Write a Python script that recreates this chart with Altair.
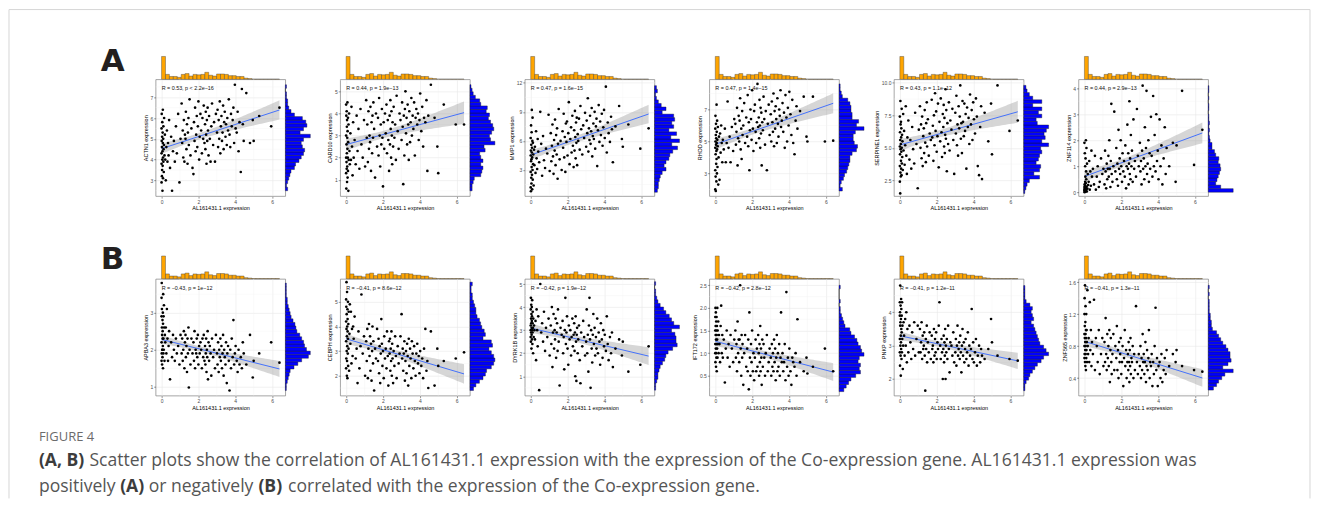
import altair as alt
import numpy as np
import pandas as pd

# ---------------- data ----------------
# AL161431.1 expression (shared x variable of every panel)
X = [0, 0, 0, 0, 0.01, 0.01, 0.02, 0.02, 0.03, 0.03, 0.04, 0.04, 0.05, 0.05, 0.06,
     0.06, 0.07, 0.07, 0.08, 0.08, 0.09, 0.1, 0.1, 0.11, 0.12, 0.13, 0.14, 0.16, 0.18, 0.2,
     0.23, 0.26, 0.29, 0.32, 0.35, 0.38, 0.41,
     0.46, 0.52, 0.57, 0.62,
     0.67, 0.72, 0.78, 0.83,
     0.9, 0.97, 1.03,
     1.09, 1.12, 1.15, 1.18, 1.21, 1.24, 1.27,
     1.3, 1.32, 1.35, 1.38, 1.41, 1.43, 1.46, 1.48,
     1.52, 1.57, 1.62, 1.68,
     1.73, 1.76, 1.79, 1.82, 1.85, 1.88, 1.91,
     1.94, 1.97, 2.0, 2.04, 2.07, 2.11,
     2.15, 2.19, 2.22, 2.26, 2.29, 2.33,
     2.36, 2.38, 2.4, 2.42, 2.44, 2.46, 2.48, 2.5, 2.52, 2.55,
     2.58, 2.62, 2.66, 2.7, 2.74,
     2.8, 2.85, 2.9, 2.95,
     3.01, 3.04, 3.07, 3.1, 3.13, 3.16, 3.19,
     3.22, 3.25, 3.28, 3.31, 3.34, 3.37, 3.4,
     3.43, 3.47, 3.5, 3.54, 3.57, 3.61,
     3.65, 3.69, 3.73, 3.77, 3.81,
     3.86, 3.9, 3.94, 3.98, 4.02,
     4.08, 4.13, 4.18, 4.23,
     4.3, 4.36, 4.41, 4.46,
     4.6, 4.8,
     4.95, 5.0, 5.3, 5.95, 6.4]

Y_ACTN1 = [4.3, 2.9, 5.5, 3.8, 4.9, 6.2, 3.2, 4.6, 5.1, 3.5, 4.0, 5.8, 2.5, 4.4, 5.3,
           3.7, 4.8, 6.4, 3.1, 4.1, 5.0, 3.9, 5.6, 4.5, 3.4, 4.7, 6.0, 4.2, 5.2, 4.0,
           3.0, 4.6, 5.4, 3.9, 4.8, 4.2, 5.9, 3.6, 5.1, 2.5, 4.4, 4.9, 3.9, 5.6, 4.3,
           6.2, 2.9, 5.0, 6.7, 4.8, 5.4, 4.1, 5.9, 3.9, 5.2, 5.0, 6.3, 4.5, 5.7, 3.8,
           5.3, 6.0, 4.7, 6.9, 4.2, 5.5, 3.6, 3.3, 5.8, 4.9, 6.5, 4.4, 5.2, 6.1,
           4.6, 5.6, 6.8, 4.0, 5.1, 6.2, 5.4, 4.3, 6.0, 5.0, 6.6, 4.8,
           5.7, 4.5, 6.3, 5.2, 3.8, 5.9, 4.9, 6.5, 5.4, 4.2, 6.1, 5.0, 3.9, 5.6, 6.7,
           4.7, 5.8, 3.9, 6.2, 5.3, 6.4, 4.6, 5.9, 5.0, 6.8, 4.3, 5.6, 6.1, 4.9, 5.3,
           6.6, 4.5, 5.8, 6.3, 5.1, 5.7, 4.7, 6.0, 5.4, 6.9, 5.2, 4.6, 6.2, 5.6,
           5.9, 6.5, 4.8, 7.6, 5.5, 5.3, 6.3, 4.4, 5.8, 3.4, 7.4, 5.7, 4.9, 7.2, 4.8,
           5.9, 4.9, 6.1, 5.6, 6.5]
Y_CARD10 = [2.0, 4.4, 1.3, 3.0, 0.6, 3.9, 1.8, 2.6, 4.1, 1.5, 3.4, 2.2, 0.9, 3.7, 2.9,
            1.6, 4.5, 2.4, 1.1, 3.2, 2.0, 3.8, 1.4, 2.7, 0.5, 3.5, 1.9, 4.0, 2.3, 1.7,
            3.1, 1.9, 4.3, 2.5, 1.2, 3.6, 2.0, 2.8, 1.7, 3.9, 2.3, 3.3, 1.5, 4.2, 2.6,
            2.0, 3.7, 1.6, 4.6, 2.9, 3.5, 1.8, 4.1, 2.4, 3.0, 2.7, 4.3, 1.4, 3.6, 2.2,
            3.9, 2.9, 4.5, 3.3, 1.1, 4.0, 2.5, 3.8, 2.1, 4.7, 3.0, 1.6, 3.5, 2.6,
            4.2, 2.9, 0.7, 3.6, 2.4, 4.0, 3.1, 4.4, 2.2, 3.7, 2.8, 1.4,
            3.9, 2.6, 4.6, 3.3, 2.0, 4.1, 3.0, 1.7, 3.6, 2.5, 4.3, 2.9, 3.5, 1.9, 4.8,
            3.2, 2.4, 4.0, 3.7, 2.8, 4.5, 3.4, 0.8, 3.9, 2.1, 4.2, 5.0, 3.1, 3.8, 2.6,
            4.4, 3.5, 1.9, 4.1, 2.7, 3.6, 4.7, 3.0, 3.9, 3.3, 4.5, 2.1, 3.8, 4.2,
            3.5, 4.0, 2.8, 3.7, 4.9, 3.2, 4.3, 2.5, 3.8, 3.6, 4.6, 1.4, 3.9, 5.3, 3.8,
            2.5, 1.3, 4.4, 3.5, 3.5]
Y_MMP1 = [4.5, 1.2, 6.3, 2.8, 5.0, 0.8, 3.9, 7.6, 2.2, 5.6, 4.1, 1.6, 6.9, 3.3, 4.8,
          9.2, 2.5, 5.3, 1.0, 4.3, 6.0, 3.0, 8.4, 2.0, 5.8, 3.6, 4.6, 1.4, 5.1, 3.5,
          5.4, 2.7, 7.0, 4.2, 3.1, 6.2, 4.9, 3.8, 9.0, 5.7, 2.4, 6.5, 4.0, 3.2, 5.2,
          4.7, 8.7, 2.9, 6.8, 3.9, 5.5, 7.7, 4.4, 2.6, 6.1, 5.0, 8.2, 3.5, 6.6, 4.6,
          7.3, 2.1, 5.7, 9.3, 4.1, 6.0, 3.0, 7.0, 5.3, 8.8, 4.3, 6.4, 2.8, 7.8,
          5.9, 8.0, 4.5, 6.8, 10.0, 3.6, 6.2, 7.4, 4.8, 8.6, 5.5, 3.3,
          7.1, 5.0, 9.1, 6.4, 4.2, 7.9, 5.8, 8.4, 3.5, 6.7, 6.0, 8.3, 5.1, 9.6, 7.2,
          4.6, 7.6, 6.3, 8.9, 5.4, 8.1, 6.8, 10.4, 4.9, 7.3, 6.1, 8.6, 5.7, 7.0, 9.4,
          4.4, 6.5, 7.8, 6.2, 9.0, 5.2, 7.5, 8.3, 3.4, 7.1, 9.7, 5.9, 8.0, 6.6,
          8.8, 5.5, 7.4, 9.2, 6.3, 11.6, 4.8, 7.9, 6.8, 5.9, 8.5, 7.2, 3.8, 7.5, 9.6,
          6.2, 5.4, 7.7, 5.2, 7.3]
Y_RHOD = [4.6, 2.0, 5.8, 3.2, 5.0, 6.6, 2.8, 4.2, 5.4, 1.9, 4.8, 6.1, 3.6, 5.2, 2.5,
          4.4, 7.3, 3.9, 5.6, 4.9, 3.0, 6.3, 4.5, 5.1, 3.4, 4.7, 5.9, 2.3, 4.0, 5.3,
          2.6, 5.5, 4.3, 6.0, 4.9, 3.7, 5.1, 4.5, 5.8, 3.7, 4.9, 7.5, 4.6, 5.3, 3.7,
          5.9, 4.4, 6.4, 6.1, 4.8, 5.6, 7.1, 3.5, 5.2, 6.6, 5.0, 6.3, 7.7, 4.5, 5.8,
          3.9, 6.9, 5.4, 6.0, 7.4, 4.9, 6.5, 5.3, 7.9, 4.7, 6.2, 3.2, 5.7, 7.0,
          6.4, 5.1, 8.2, 5.8, 4.4, 6.9, 7.3, 5.6, 4.9, 6.2, 8.6, 5.9,
          6.5, 5.2, 7.6, 6.0, 4.6, 7.1, 5.5, 6.8, 3.5, 6.2, 5.7, 7.8, 6.4, 4.8, 6.9,
          3.2, 6.1, 7.3, 5.4, 6.7, 5.0, 7.5, 6.2, 5.6, 8.0, 4.7, 6.9, 5.8, 7.2, 6.4,
          4.9, 7.7, 6.1, 5.3, 7.0, 6.6, 8.2, 5.9, 6.3, 7.4, 5.6, 6.8, 4.6, 7.9,
          6.5, 5.0, 7.1, 6.0, 8.1, 6.7, 5.4, 7.6, 4.9, 4.2, 6.3, 7.2, 5.8, 6.9, 7.8,
          5.3, 5.0, 7.8, 5.0, 5.05]
Y_SERPINE1 = [5.1, 2.4, 7.4, 3.6, 6.2, 4.5, 1.5, 5.6, 8.6, 3.1, 4.9, 6.8, 2.8, 5.3, 4.0,
              7.0, 3.4, 5.8, 4.7, 6.5, 2.9, 5.0, 8.0, 3.8, 6.0, 4.3, 5.5, 3.3, 7.6, 4.8,
              6.3, 3.7, 5.2, 8.2, 4.4, 3.0, 5.8, 7.1, 4.1, 5.6, 3.4, 6.6, 4.9, 3.8, 7.7,
              5.3, 1.9, 6.4, 8.2, 5.0, 6.8, 4.2, 7.4, 3.6, 5.9, 6.5, 4.6, 7.9, 5.4, 3.9,
              6.9, 8.5, 5.1, 7.2, 4.4, 6.1, 5.6, 8.7, 5.8, 6.7, 4.0, 7.5, 5.2, 9.2,
              6.3, 7.8, 4.7, 5.9, 8.4, 3.5, 7.0, 5.5, 8.8, 6.2, 4.3, 7.6,
              6.6, 8.3, 5.1, 7.3, 4.6, 6.0, 9.5, 5.7, 7.9, 3.2, 6.9, 5.3, 8.5, 4.8, 7.1,
              6.4, 8.0, 5.6, 3.0, 7.7, 6.1, 9.0, 5.2, 6.8, 4.4, 8.2, 6.5, 7.4, 9.8, 5.7,
              6.9, 4.6, 8.6, 7.0, 5.9, 8.4, 6.3, 7.6, 3.4, 8.1, 6.6, 7.3, 5.3, 9.1,
              6.8, 7.9, 5.6, 8.5, 7.2, 6.1, 8.8, 7.4, 3.6, 2.9, 6.6, 8.2, 2.6, 7.7, 5.5,
              8.4, 4.5, 9.8, 6.3, 7.1]
Y_ZNF114 = [0.05, 0.1, 0.2, 1.9, 0.0, 0.3, 0.15, 1.5, 0.08, 0.25, 0.4, 1.0, 0.12, 0.6, 0.02,
            1.3, 0.18, 0.35, 2.0, 0.05, 0.8, 0.1, 0.5, 1.7, 0.22, 0.03, 1.1, 0.14, 0.7, 0.28,
            0.4, 1.2, 0.1, 0.8, 0.25, 1.6, 0.6, 0.9, 0.3, 1.4, 0.1, 0.6, 1.0, 0.2, 0.4,
            1.3, 0.7, 0.9, 0.3, 1.6, 0.8, 0.15, 1.1, 0.5, 0.9, 1.4, 0.6, 2.0, 0.9, 0.2,
            1.2, 3.4, 0.7, 0.4, 1.0, 3.1, 0.8, 1.7, 0.5, 1.1, 0.25, 2.4, 0.9, 1.3,
            0.7, 2.0, 1.0, 0.4, 1.5, 0.8, 1.2, 0.6, 1.8, 0.15, 1.0, 2.6,
            0.9, 1.5, 0.3, 1.1, 3.5, 0.7, 1.3, 0.5, 2.2, 1.0, 1.6, 0.4, 2.8, 0.9, 1.2,
            0.6, 3.2, 1.4, 1.0, 1.9, 0.8, 1.2, 0.3, 1.6, 4.1, 0.9, 1.3, 0.5, 2.5, 1.0,
            1.7, 3.9, 0.7, 1.1, 2.0, 0.4, 1.5, 0.9, 2.9, 1.4, 0.6, 3.7, 1.0, 2.2,
            0.8, 3.0, 1.2, 1.6, 0.5, 2.8, 1.0, 1.8, 0.3, 1.3, 2.5, 0.7, 1.7, 1.0, 1.9,
            0.4, 1.8, 3.9, 1.05, 2.4]
Y_APBA3 = [2.9, 1.7, 3.4, 2.2, 3.8, 1.9, 2.6, 3.1, 1.6, 2.4, 2.0, 2.0, 2.8, 1.8, 2.3,
           2.5, 2.1, 3.0, 1.5, 2.7, 3.5, 2.3, 1.9, 2.9, 2.0, 3.2, 2.6, 1.7, 2.4, 2.2,
           2.6, 1.9, 3.1, 2.3, 1.7, 2.1, 2.5, 1.2, 2.2, 1.8, 2.4, 2.0, 1.7, 2.3, 1.9,
           2.1, 1.6, 2.4, 1.9, 2.3, 1.7, 2.0, 2.5, 1.5, 2.2, 2.4, 1.8, 2.1, 1.4, 2.3,
           1.9, 2.6, 0.98, 2.0, 1.6, 2.3, 1.9, 2.2, 1.7, 2.5, 1.5, 2.0, 1.9, 2.3,
           1.8, 2.4, 1.6, 2.1, 1.9, 2.2, 2.0, 1.5, 2.3, 1.8, 2.4, 1.7,
           2.1, 1.6, 1.9, 2.3, 1.4, 2.0, 1.8, 2.5, 1.2, 2.2, 1.7, 2.1, 1.9, 1.3, 2.3,
           1.8, 2.0, 1.5, 2.4, 1.9, 1.6, 2.2, 1.4, 2.0, 1.8, 2.3, 1.7, 2.1, 1.5, 1.9,
           2.4, 1.3, 2.0, 1.8, 1.6, 2.2, 1.1, 1.9, 2.1, 1.7, 0.9, 2.0, 1.5, 2.3,
           1.8, 2.8, 1.6, 1.9, 2.1, 1.7, 1.4, 2.0, 1.6, 1.8, 1.5, 2.2, 1.9, 1.6, 2.4,
           1.25, 1.7, 1.9, 2.2, 1.65]
Y_CEBPH = [4.2, 2.3, 5.1, 3.4, 4.8, 2.7, 3.9, 5.8, 3.0, 4.5, 2.0, 3.6, 5.4, 2.6, 4.0,
           3.2, 4.7, 1.9, 3.8, 4.3, 2.9, 5.0, 3.5, 2.4, 4.1, 3.1, 4.6, 2.2, 3.7, 4.9,
           3.3, 4.6, 2.5, 3.9, 2.8, 4.0, 3.5, 4.4, 2.7, 3.1, 1.7, 3.8, 2.3, 3.2, 5.3,
           2.9, 3.6, 2.0, 3.4, 2.6, 3.9, 1.9, 3.1, 4.1, 2.8, 3.6, 2.2, 3.3, 1.8, 3.0,
           4.0, 2.5, 3.4, 1.4, 3.1, 2.7, 3.9, 2.6, 3.5, 2.1, 3.2, 1.7, 2.9, 4.3,
           3.3, 2.4, 3.0, 1.9, 3.6, 2.7, 3.1, 2.3, 3.8, 2.8, 1.6, 3.4,
           2.9, 3.5, 2.2, 3.1, 2.6, 3.8, 2.0, 3.3, 2.7, 1.7, 3.0, 2.4, 3.6, 2.8, 1.9,
           3.2, 2.5, 2.9, 3.6, 4.5, 2.7, 3.1, 2.2, 2.9, 3.4, 1.8, 2.6, 3.0, 2.1, 3.3,
           2.8, 1.6, 3.5, 2.4, 3.1, 2.7, 1.9, 3.4, 2.9, 2.3, 3.2, 2.6, 2.0, 2.9,
           3.3, 2.5, 2.8, 2.1, 3.0, 2.4, 2.7, 1.9, 3.1, 3.9, 2.2, 2.6, 1.5, 3.8, 1.6,
           3.1, 2.4, 2.6, 2.7, 2.95]
Y_DYRK1B = [3.2, 2.7, 3.9, 3.0, 4.4, 2.5, 3.5, 2.9, 4.1, 3.3, 2.2, 3.7, 3.1, 2.8, 4.0,
            3.4, 2.6, 3.6, 3.0, 4.3, 2.4, 3.3, 2.9, 3.8, 3.1, 2.0, 3.5, 2.7, 3.2, 3.0,
            2.6, 3.4, 1.7, 3.9, 3.0, 2.3, 3.6, 0.4, 5.0, 2.9, 3.3, 2.5, 3.8, 2.1, 3.1,
            2.7, 3.5, 1.9, 3.2, 2.4, 4.0, 1.4, 2.9, 3.7, 2.2, 3.0, 2.6, 3.5, 1.8, 2.9,
            3.3, 2.1, 3.9, 2.5, 0.6, 3.1, 2.8, 3.4, 2.0, 2.7, 1.3, 3.0, 4.4, 2.4,
            2.9, 3.6, 2.2, 1.5, 3.2, 2.6, 3.0, 1.9, 2.7, 3.5, 2.3, 2.8,
            3.3, 2.1, 2.9, 1.0, 3.6, 2.5, 0.8, 2.8, 3.1, 2.0, 2.6, 3.2, 1.7, 0.7, 2.9,
            2.3, 3.4, 2.7, 1.9, 2.5, 3.9, 2.0, 2.8, 1.2, 3.2, 4.4, 2.6, 0.5, 3.0, 2.2,
            1.6, 2.8, 3.7, 2.4, 3.1, 1.9, 2.7, 2.2, 3.5, 2.0, 2.9, 2.5, 1.5, 3.3,
            2.6, 1.8, 3.0, 2.3, 2.8, 2.1, 3.6, 2.4, 1.7, 2.7, 2.0, 2.9, 1.4, 2.2, 2.6,
            1.9, 2.5, 1.2, 1.5, 2.3]
Y_IFT172 = [1.5, 1.0, 1.8, 1.2, 2.0, 0.8, 1.4, 1.6, 1.1, 1.9, 0.7, 1.3, 1.7, 1.0, 1.5,
            0.9, 1.2, 1.8, 1.4, 0.6, 1.6, 1.1, 1.3, 2.0, 0.9, 1.5, 1.2, 1.7, 1.0, 1.4,
            1.2, 0.8, 1.6, 2.05, 1.0, 1.4, 0.9, 1.3, 0.35, 1.1, 1.5, 0.9, 1.2, 0.7, 1.4,
            1.1, 0.8, 1.3, 1.5, 0.9, 1.2, 0.6, 1.7, 1.0, 1.3, 0.8, 1.3, 2.5, 1.1, 0.5,
            1.4, 0.9, 1.2, 0.3, 1.0, 1.4, 0.7, 1.1, 0.6, 1.3, 0.2, 1.9, 0.9, 0.5,
            1.2, 0.8, 1.5, 0.6, 1.0, 0.4, 0.9, 1.3, 0.6, 1.1, 0.7, 1.4,
            1.0, 0.5, 1.2, 0.8, 1.6, 0.6, 1.1, 0.9, 0.3, 1.3, 0.7, 1.2, 0.9, 0.5, 1.0,
            1.4, 0.6, 0.8, 1.1, 0.9, 0.5, 1.2, 0.7, 1.0, 0.6, 1.3, 0.8, 1.1, 0.4, 0.9,
            1.4, 0.6, 1.0, 0.7, 1.2, 0.5, 0.9, 1.9, 0.8, 1.0, 0.6, 0.8, 1.2, 0.4,
            2.35, 0.7, 0.9, 0.5, 1.1, 0.6, 0.3, 0.9, 0.8, 0.7, 1.0, 0.5, 1.75, 0.8, 0.6,
            0.9, 0.55, 0.7, 1.1, 0.6]
Y_PNKP = [3.9, 2.8, 4.3, 3.2, 4.0, 2.4, 3.6, 4.8, 3.0, 3.7, 2.7, 4.2, 3.3, 2.1, 3.8,
          3.1, 4.4, 2.9, 3.5, 4.1, 2.6, 3.4, 3.9, 2.8, 4.3, 3.2, 3.6, 2.3, 3.0, 3.7,
          3.3, 2.7, 3.8, 3.0, 4.0, 2.5, 3.5, 2.8, 3.6, 3.1, 2.6, 3.4, 2.9, 3.7, 2.7,
          3.2, 3.6, 2.8, 3.5, 2.8, 3.1, 3.7, 2.6, 3.3, 2.9, 3.0, 3.4, 2.7, 1.65, 3.2,
          2.9, 3.6, 2.5, 3.1, 2.8, 3.4, 2.6, 3.3, 2.9, 3.0, 2.5, 3.5, 2.7, 3.2,
          2.8, 3.4, 2.6, 3.1, 2.9, 3.6, 4.3, 3.0, 2.6, 3.2, 2.8, 2.0,
          2.9, 3.3, 2.5, 3.1, 2.7, 3.5, 2.0, 3.0, 2.8, 3.2, 2.6, 3.6, 2.9, 2.2, 3.1,
          3.0, 2.7, 3.4, 2.5, 2.8, 3.2, 2.4, 3.0, 3.6, 2.7, 2.9, 3.1, 2.6, 3.3, 2.8,
          2.2, 3.0, 3.5, 2.7, 3.1, 2.5, 2.9, 3.2, 2.6, 2.8, 3.4, 2.4, 3.0, 2.7,
          2.9, 4.1, 2.6, 3.1, 2.5, 2.8, 3.2, 2.4, 2.7, 3.0, 2.5, 2.9, 2.7, 2.6, 2.9,
          3.8, 3.1, 2.7, 2.6, 2.55]
Y_ZNF565 = [0.8, 1.2, 0.65, 0.95, 1.4, 0.7, 0.9, 1.05, 0.6, 1.56, 0.75, 0.85, 1.1, 0.55, 0.95,
            1.3, 0.7, 0.8, 1.0, 0.5, 0.9, 1.2, 0.65, 0.75, 1.0, 0.85, 0.6, 1.5, 0.8, 0.7,
            0.9, 0.6, 1.35, 0.75, 1.0, 0.55, 0.85, 0.7, 1.38, 0.5, 0.9, 0.8, 0.6, 1.0, 0.45,
            0.7, 0.9, 0.55, 0.85, 0.6, 1.15, 0.7, 0.5, 0.95, 0.65, 0.8, 0.55, 1.0, 0.35, 0.75,
            0.9, 0.6, 0.45, 0.7, 0.95, 0.5, 0.8, 0.65, 1.05, 0.5, 0.75, 0.4, 0.85, 0.6,
            0.7, 0.9, 0.45, 0.6, 0.8, 0.3, 0.65, 1.0, 0.55, 0.75, 0.4, 0.6,
            0.7, 0.5, 0.85, 0.6, 0.35, 0.75, 0.55, 0.9, 0.45, 0.65, 0.6, 0.8, 0.4, 0.7, 0.5,
            1.3, 0.6, 0.45, 0.7, 0.55, 0.8, 0.4, 0.65, 0.5, 0.95, 0.6, 0.7, 0.45, 0.6, 0.85,
            0.35, 0.55, 0.75, 0.5, 0.65, 1.0, 0.4, 0.6, 0.55, 0.7, 0.3, 0.6, 0.45, 0.8,
            1.28, 0.5, 0.65, 0.3, 0.55, 0.6, 0.4, 0.7, 0.35, 0.5, 0.65, 0.45, 0.75, 0.55, 0.7,
            0.6, 0.75, 0.55, 0.5, 0.48]

GENES = ["ACTN1", "CARD10", "MMP1", "RHOD", "SERPINE1", "ZNF114",
         "APBA3", "CEBPH", "DYRK1B", "IFT172", "PNKP", "ZNF565"]
YS = [Y_ACTN1, Y_CARD10, Y_MMP1, Y_RHOD, Y_SERPINE1, Y_ZNF114,
      Y_APBA3, Y_CEBPH, Y_DYRK1B, Y_IFT172, Y_PNKP, Y_ZNF565]
STATS = ["R = 0.53, p < 2.2e\u221216", "R = 0.44, p = 1.9e\u221213", "R = 0.47, p = 1.6e\u221215",
         "R = 0.47, p = 1.4e\u221215", "R = 0.43, p = 1.1e\u221212", "R = 0.44, p = 2.9e\u221213",
         "R = \u22120.43, p = 1e\u221212", "R = \u22120.41, p = 8.6e\u221212", "R = \u22120.42, p = 1.9e\u221212",
         "R = \u22120.42, p = 2.8e\u221212", "R = \u22120.41, p = 1.2e\u221211", "R = \u22120.41, p = 1.3e\u221211"]
YDOM = [[2.24, 7.86], [0.26, 5.54], [0.3, 12.35], [1.58, 8.88], [1.29, 10.26], [-0.15, 4.34],
        [0.76, 3.91], [1.19, 5.93], [0.16, 5.22], [0.06, 2.64], [1.5, 5.0], [0.18, 1.64]]
YTICKS = [[3, 4, 5, 6, 7], [1, 2, 3, 4, 5], [3, 6, 9, 12], [3, 5, 7], [2.5, 5.0, 7.5, 10.0], [0, 1, 2, 3, 4],
          [1, 2, 3], [2, 3, 4, 5], [1, 2, 3, 4, 5], [0.5, 1.0, 1.5, 2.0, 2.5], [2, 3, 4], [0.4, 0.8, 1.2, 1.6]]
YFMT = ["d", "d", "d", "d", ".1f", "d", "d", "d", "d", ".1f", "d", ".1f"]
XTICKS = [0, 2, 4, 6]

# marginal histogram of AL161431.1 (30 bins over [0, 6.4])
ORANGE_RANGE = [0, 6.4]
ORANGE = [55, 12, 7, 7, 5, 12, 14, 8, 12, 11, 12, 17, 10, 8, 13, 13, 12, 9, 9, 7, 7, 3, 2, 1, 1, 1, 1, 1, 1, 1]
# marginal histograms of the co-expression genes (30 bins, bottom to top)
HRANGE = [[2.5, 7.6], [0.5, 5.3], [0.7, 11.7], [1.9, 8.6], [1.5, 9.8], [0.0, 4.1],
          [0.9, 3.8], [1.4, 5.8], [0.4, 5.1], [0.15, 2.5], [1.65, 4.8], [0.25, 1.56]]
BLUE = [
    [2, 1, 2, 3, 4, 5, 8, 9, 12, 14, 16, 17, 15, 14, 16, 22, 13, 16, 19, 18, 15, 8, 5, 3, 2, 2, 1, 1, 0, 1],
    [2, 2, 3, 4, 10, 11, 12, 10, 12, 10, 9, 14, 13, 23, 19, 18, 20, 22, 21, 19, 17, 18, 15, 16, 10, 9, 5, 3, 2, 1],
    [3, 4, 4, 5, 6, 8, 12, 10, 12, 15, 16, 19, 24, 18, 26, 17, 23, 15, 20, 18, 21, 20, 8, 12, 7, 4, 2, 1, 3, 2],
    [3, 1, 2, 4, 5, 7, 8, 9, 10, 10, 12, 16, 17, 14, 13, 13, 15, 23, 16, 18, 12, 12, 11, 11, 10, 8, 3, 2, 1, 1],
    [1, 2, 3, 5, 14, 9, 14, 15, 11, 13, 14, 16, 15, 22, 16, 19, 18, 20, 22, 12, 11, 16, 13, 16, 8, 16, 8, 5, 3, 2],
    [40, 20, 12, 14, 16, 18, 20, 19, 16, 17, 12, 10, 6, 6, 3, 2, 1, 2, 1, 2, 1, 1, 0, 1, 1, 0, 1, 0, 1, 1],
    [1, 1, 2, 3, 4, 5, 9, 13, 17, 24, 26, 22, 20, 19, 17, 15, 12, 11, 10, 8, 6, 5, 4, 3, 2, 2, 1, 1, 1, 1],
    [3, 5, 8, 11, 13, 14, 18, 20, 21, 20, 18, 16, 19, 18, 11, 13, 12, 10, 9, 8, 6, 5, 5, 4, 3, 2, 2, 1, 1, 2],
    [1, 1, 2, 3, 3, 4, 5, 7, 9, 10, 12, 16, 20, 19, 19, 18, 15, 22, 17, 15, 13, 10, 8, 5, 3, 2, 1, 1, 0, 1],
    [4, 6, 8, 10, 14, 18, 17, 18, 16, 17, 21, 19, 18, 16, 15, 13, 10, 9, 5, 4, 3, 2, 1, 1, 0, 1, 0, 0, 0, 1],
    [1, 1, 2, 4, 5, 7, 9, 11, 14, 16, 20, 18, 16, 13, 12, 11, 10, 9, 8, 6, 8, 7, 6, 7, 5, 2, 1, 1, 1, 1],
    [5, 8, 10, 13, 16, 24, 14, 19, 22, 21, 21, 19, 17, 14, 12, 10, 8, 4, 3, 3, 2, 2, 1, 1, 1, 1, 0, 1, 0, 1],
]

FIG_LABEL = "FIGURE 4"
CAPTION = [
    [("(A, B)", True), ("Scatter plots show the correlation of AL161431.1 expression with the expression "
                        "of the Co-expression gene. AL161431.1 expression was", False)],
    [("positively", False), ("(A)", True), ("or negatively", False), ("(B)", True),
     ("correlated with the expression of the Co-expression gene.", False)],
]

for ys in YS:
    assert len(ys) == len(X), len(ys)

# ---------------- layout (pixels) ----------------
FONT = "Liberation Sans"
CFONT = "Open Sans"
CAP_SIZE = 17.6
W, H, TH, RW, GW, GAPH = 130, 117, 23, 25, 30, 60
OX, OY = 155, 55                      # page position of the first plot cell
CAP_X16 = [[38, 84], [38, 112, 138, 238, 265]]   # segment starts measured at 16 px
CAP_X = [[38 + (v - 38) * CAP_SIZE / 16 for v in row] for row in CAP_X16]
CAP_Y = [460, 487]

XS = alt.Scale(domain=[-0.32, 6.72], nice=False, zero=False)


def spacer(w, h):
    return alt.Chart(pd.DataFrame({"a": [0]})).mark_point(opacity=0).encode(
        x=alt.X("a:Q", axis=None), y=alt.Y("a:Q", axis=None)).properties(width=w, height=h)


def bins(rng, counts):
    lo, hi = rng
    n = len(counts)
    st = (hi - lo) / n
    return pd.DataFrame({"b0": [lo + k * st for k in range(n)],
                         "b1": [lo + (k + 1) * st for k in range(n)],
                         "c": counts, "z": [0] * n})


def top_hist():
    return alt.Chart(bins(ORANGE_RANGE, ORANGE)).mark_rect(
        fill="#FFA500", stroke="#3a3a3a", strokeWidth=0.4).encode(
        x=alt.X("b0:Q", scale=XS, axis=None), x2="b1:Q",
        y=alt.Y("c:Q", scale=alt.Scale(domain=[0, max(ORANGE)], nice=False), axis=None),
        y2="z:Q").properties(width=W, height=TH)


def right_hist(i):
    return alt.Chart(bins(HRANGE[i], BLUE[i])).mark_rect(
        fill="#0000FF", stroke="#1a1a1a", strokeWidth=0.4).encode(
        y=alt.Y("b0:Q", scale=alt.Scale(domain=YDOM[i], nice=False, zero=False), axis=None),
        y2="b1:Q",
        x=alt.X("z:Q", scale=alt.Scale(domain=[0, max(BLUE[i])], nice=False), axis=None),
        x2="c:Q").properties(width=RW, height=H)


def conf_band(xs, ys):
    x = np.asarray(xs, float)
    y = np.asarray(ys, float)
    n = len(x)
    b, a = np.polyfit(x, y, 1)
    s = np.sqrt(np.sum((y - (a + b * x)) ** 2) / (n - 2))
    xm = x.mean()
    sxx = np.sum((x - xm) ** 2)
    g = np.linspace(x.min(), x.max(), 60)
    se = s * np.sqrt(1.0 / n + (g - xm) ** 2 / sxx)
    fit = a + b * g
    return pd.DataFrame({"x": g, "lo": fit - 1.976 * se, "hi": fit + 1.976 * se})


def minor_values(ticks, dom):
    st = ticks[1] - ticks[0]
    vals = [t + st / 2 for t in [ticks[0] - st] + list(ticks)]
    return [v for v in vals if dom[0] < v < dom[1]]


def scatter(i):
    d = pd.DataFrame({"x": X, "y": YS[i]})
    ysc = alt.Scale(domain=YDOM[i], nice=False, zero=False)
    xax = alt.Axis(values=XTICKS, title="AL161431.1 expression", format="d",
                   labelFlush=False, labelOverlap=False)
    yax = alt.Axis(values=YTICKS[i], title=GENES[i] + " expression", format=YFMT[i],
                   labelFlush=False, labelOverlap=False)

    def xe(f):
        return alt.X(f, scale=XS, axis=xax)

    def ye(f):
        return alt.Y(f, scale=ysc, axis=yax)

    mx = alt.Chart(pd.DataFrame({"v": minor_values(XTICKS, XS.domain)})).mark_rule(
        color="#f2f2f2", strokeWidth=0.4).encode(x=xe("v:Q"), y=alt.value(0), y2=alt.value(H))
    my = alt.Chart(pd.DataFrame({"v": minor_values(YTICKS[i], YDOM[i])})).mark_rule(
        color="#f2f2f2", strokeWidth=0.4).encode(y=ye("v:Q"), x=alt.value(0), x2=alt.value(W))
    band = alt.Chart(conf_band(X, YS[i])).mark_area(color="#999999", opacity=0.4).encode(
        x=xe("x:Q"), y=ye("lo:Q"), y2="hi:Q")
    line = alt.Chart(d).transform_regression("x", "y").mark_line(
        color="#3366FF", strokeWidth=0.9).encode(x=xe("x:Q"), y=ye("y:Q"))
    pts = alt.Chart(d).mark_circle(size=7, color="black", opacity=1).encode(
        x=xe("x:Q"), y=ye("y:Q"))
    txt = alt.Chart(pd.DataFrame({"t": [STATS[i]]})).mark_text(
        align="left", baseline="middle", fontSize=5.4, font=FONT, color="#111111").encode(
        text="t:N", x=alt.value(6), y=alt.value(9))
    return alt.layer(mx, my, band, line, pts, txt).properties(
        width=W, height=H, view=alt.ViewBackground(stroke="#7f7f7f", strokeWidth=0.7))


def one_text(t, x, y, size, weight="normal", color="black", font=FONT, baseline="middle"):
    return alt.Chart(pd.DataFrame({"t": [t]})).mark_text(
        align="left", baseline=baseline, fontSize=size, fontWeight=weight, color=color,
        font=font).encode(text="t:N", x=alt.value(x), y=alt.value(y))


def decorated_first():
    layers = [top_hist()]
    bx0, by0, bx1, by1 = 8 - OX, 8 - OY, 1312 - OX, 498 - OY
    rule = alt.Chart(pd.DataFrame({"a": [0]})).mark_rule(color="#d6d6d6", strokeWidth=1)
    layers.append(rule.encode(x=alt.value(bx0), y=alt.value(by0), y2=alt.value(by1)))
    layers.append(rule.encode(x=alt.value(bx1), y=alt.value(by0), y2=alt.value(by1)))
    layers.append(rule.encode(y=alt.value(by0), x=alt.value(bx0), x2=alt.value(bx1)))
    layers.append(one_text("A", 100 - OX, 70 - OY, 31, "bold", "#231f20", "DejaVu Sans",
                           baseline="alphabetic"))
    layers.append(one_text(FIG_LABEL, 38 - OX, 436 - OY, 13, "normal", "#6b6b6b", CFONT))
    for li, segs in enumerate(CAPTION):
        for si, (t, bold) in enumerate(segs):
            layers.append(one_text(t, CAP_X[li][si] - OX, CAP_Y[li] - OY, CAP_SIZE,
                                   "bold" if bold else "normal",
                                   "#3c3c3c" if bold else "#555555", CFONT))
    return alt.layer(*layers)


def decorated_b():
    return alt.layer(top_hist(), one_text("B", 100 - OX, 268 - 255, 31, "bold", "#231f20",
                                          "DejaVu Sans", baseline="alphabetic"))


items = []
for row in range(2):
    ids = list(range(row * 6, row * 6 + 6))
    # top histograms
    for j, i in enumerate(ids):
        if j == 0:
            items.append(decorated_first() if row == 0 else decorated_b())
        else:
            items.append(top_hist())
        items.append(spacer(RW, TH))
        if j < 5:
            items.append(spacer(GW, TH))
    # main row
    for j, i in enumerate(ids):
        items.append(scatter(i))
        items.append(right_hist(i))
        if j < 5:
            items.append(spacer(GW, H))
    if row == 0:
        for j in range(6):
            items.append(spacer(W, GAPH))
            items.append(spacer(RW, GAPH))
            if j < 5:
                items.append(spacer(GW, GAPH))

chart = alt.concat(*items, columns=17, spacing=0, bounds="flush").properties(
    padding=0, background="white"
).configure_view(strokeWidth=0).configure_axis(
    labelFont=FONT, labelFontSize=5, labelColor="#4d4d4d", labelPadding=1,
    titleFont=FONT, titleFontSize=5.5, titleFontWeight="normal", titleColor="black",
    titlePadding=1.5, tickSize=2, tickColor="#333333", tickWidth=0.5, domain=False,
    grid=True, gridColor="#e8e8e8", gridWidth=0.6)

chart.save("out.html", embed_options={"renderer": "svg", "actions": False})
